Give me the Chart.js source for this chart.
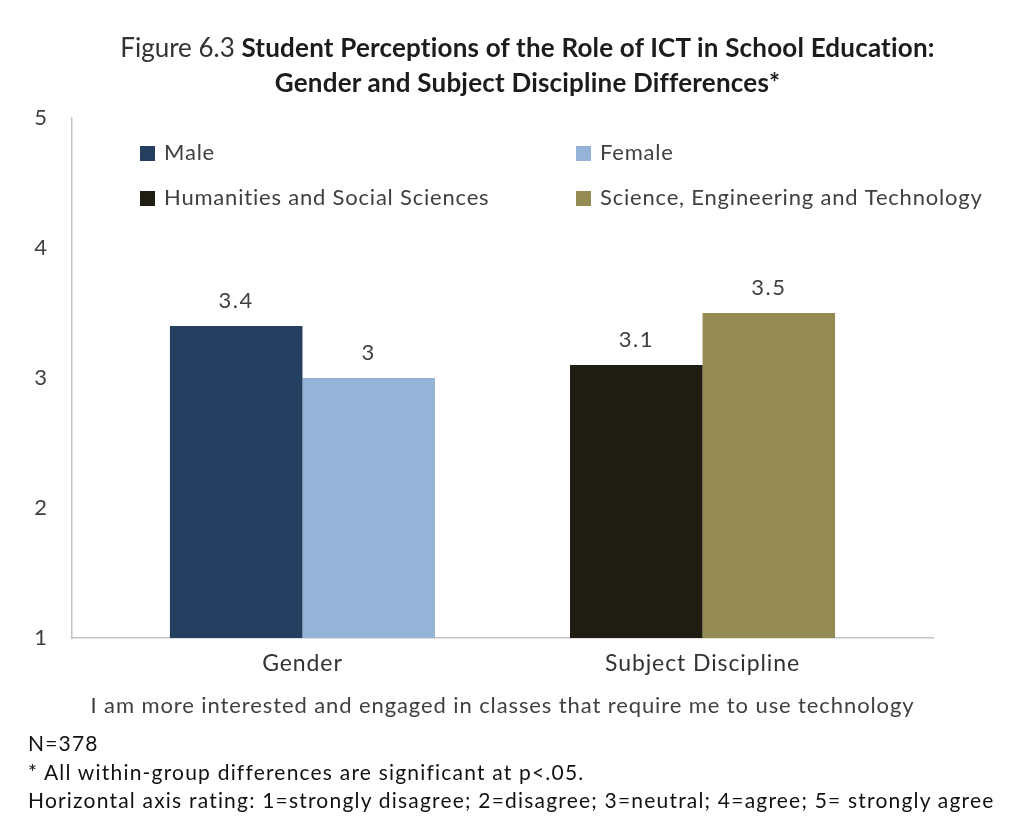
<!DOCTYPE html>
<html>
<head>
<meta charset="utf-8">
<script src="https://cdn.jsdelivr.net/npm/chart.js@4.4.1/dist/chart.umd.min.js"></script>
<style>
  html, body { margin: 0; padding: 0; background: #ffffff; }
  #wrap { position: relative; width: 1025px; height: 816px; overflow: hidden; }
  #ictChart { position: absolute; left: 0; top: 0; }
  .heading {
    position: absolute; left: 15px; top: 30px; width: 1025px;
    text-align: center; font-family: Lato, sans-serif;
    font-size: 26px; line-height: 35px; color: #1c1c1c;
  }
  .heading .fig { font-weight: normal; color: #333333; letter-spacing: 0px; }
  .heading b { font-weight: bold; letter-spacing: 0.2px; }
  .notes {
    position: absolute; left: 28px; top: 729px;
    font-family: Lato, sans-serif; letter-spacing: 1.2px;
    font-size: 21px; line-height: 28.5px; color: #111111;
  }
</style>
</head>
<body>
<div id="wrap">
  <canvas id="ictChart" width="1025" height="816"></canvas>
  <div class="heading">
    <span class="fig">Figure 6.3 </span><b>Student Perceptions of the Role of ICT in School Education:</b><br>
    <b>Gender and Subject Discipline Differences*</b>
  </div>
  <div class="notes">
    N=378<br>
    * All within-group differences are significant at p&lt;.05.<br>
    Horizontal axis rating: 1=strongly disagree; 2=disagree; 3=neutral; 4=agree; 5= strongly agree
  </div>
</div>
<script>
const FONT = "Lato, sans-serif";

// Groups along the x axis
const groups = ["Gender", "Subject Discipline"];

// Mean ratings per series (null where a series doesn't belong to the group)
const maleScores = [3.4, null];
const femaleScores = [3.0, null];
const humanitiesScores = [null, 3.1];
const scienceScores = [null, 3.5];

const seriesNames = ["Male", "Female", "Humanities and Social Sciences", "Science, Engineering and Technology"];
const seriesColors = ["#243f60", "#95b3d7", "#1f1d11", "#948a54"];

const yTicks = [1, 2, 3, 4, 5];
const axisTitle = "I am more interested and engaged in classes that require me to use technology";

// Slightly wider lettering for everything Chart.js draws itself
const textSpacing = {
  id: "textSpacing",
  beforeDraw(chart) {
    chart.ctx.letterSpacing = "0.9px";
  }
};

// Two-column legend drawn inside the plot area
const insideLegend = {
  id: "insideLegend",
  afterDraw(chart) {
    const { ctx, chartArea } = chart;
    const cols = [chartArea.left + 68, chartArea.left + 504];
    const rows = [chartArea.top + 35, chartArea.top + 80];
    ctx.save();
    ctx.font = "22px " + FONT;
    ctx.letterSpacing = "0.8px";
    ctx.textBaseline = "middle";
    chart.data.datasets.forEach((ds, i) => {
      const x = cols[i % 2];
      const y = rows[Math.floor(i / 2)];
      ctx.fillStyle = ds.backgroundColor;
      ctx.fillRect(x, y - 7, 15, 15);
      ctx.fillStyle = "#404040";
      ctx.fillText(ds.label, x + 24, y);
    });
    ctx.restore();
  }
};

// Value labels above each bar
const barValues = {
  id: "barValues",
  afterDatasetsDraw(chart) {
    const { ctx } = chart;
    ctx.save();
    ctx.font = "22px " + FONT;
    ctx.letterSpacing = "1.5px";
    ctx.fillStyle = "#404040";
    ctx.textAlign = "center";
    ctx.textBaseline = "alphabetic";
    chart.data.datasets.forEach((ds, i) => {
      chart.getDatasetMeta(i).data.forEach((bar, j) => {
        const v = ds.data[j];
        if (v === null) return;
        ctx.fillText(String(v), bar.x, bar.y - 18);
      });
    });
    ctx.restore();
  }
};

const ctx = document.getElementById("ictChart").getContext("2d");

new Chart(ctx, {
  type: "bar",
  data: {
    labels: groups.map((g, i) => i),
    datasets: [maleScores, femaleScores, humanitiesScores, scienceScores].map((d, i) => ({
      label: seriesNames[i],
      data: d,
      backgroundColor: seriesColors[i],
      borderWidth: 0
    }))
  },
  options: {
    responsive: false,
    animation: false,
    skipNull: true,
    categoryPercentage: 0.6625,
    barPercentage: 1,
    layout: {
      padding: { left: 22, right: 92, top: 118, bottom: 97 }
    },
    plugins: {
      legend: { display: false },
      tooltip: { enabled: false }
    },
    scales: {
      x: {
        type: "linear",
        offset: false,
        min: -0.576,
        max: 1.576,
        grid: { display: false, drawTicks: false },
        border: { display: true, color: "#c4c4c4", width: 1.5 },
        afterBuildTicks(scale) {
          scale.ticks = groups.map((g, i) => ({ value: i }));
        },
        afterFit(scale) {
          scale.height = 81;
        },
        ticks: {
          padding: 12,
          color: "#333333",
          font: { family: FONT, size: 23 },
          callback: (v) => groups[v]
        },
        title: {
          display: true,
          text: axisTitle,
          color: "#404040",
          padding: 0,
          font: { family: FONT, size: 22 }
        }
      },
      y: {
        min: yTicks[0],
        max: yTicks[yTicks.length - 1],
        grid: { display: false, drawTicks: false },
        border: { display: true, color: "#c4c4c4", width: 1.5 },
        afterFit(scale) {
          scale.width = 50;
        },
        ticks: {
          stepSize: 1,
          padding: 24,
          color: "#404040",
          font: { family: FONT, size: 22 }
        }
      }
    }
  },
  plugins: [textSpacing, insideLegend, barValues]
});
</script>
</body>
</html>
